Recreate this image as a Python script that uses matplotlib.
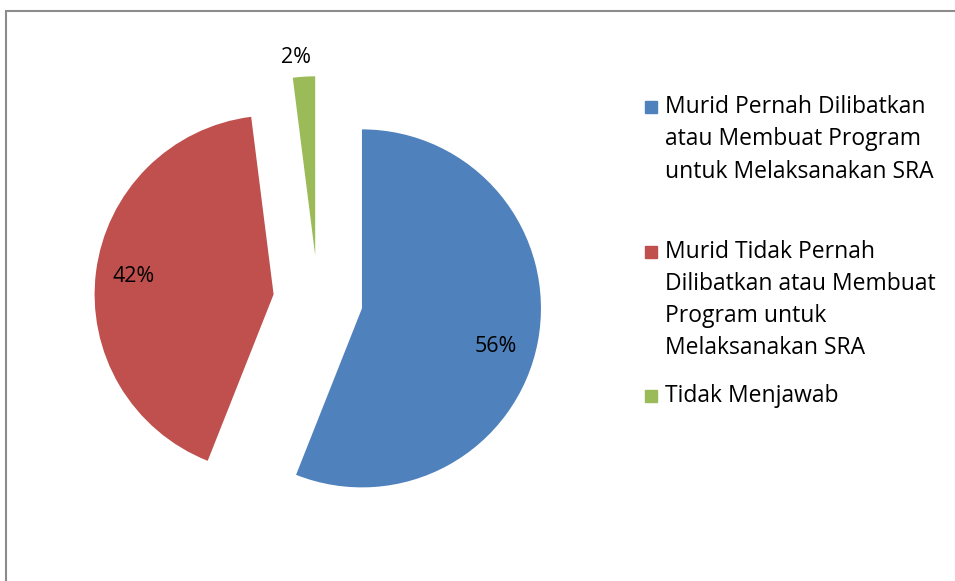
import numpy as np
import matplotlib
matplotlib.use('Agg')
import matplotlib.pyplot as plt
from matplotlib.patches import Rectangle

# data
labels = [
    'Murid Pernah Dilibatkan\natau Membuat Program\nuntuk Melaksanakan SRA',
    'Murid Tidak Pernah\nDilibatkan atau Membuat\nProgram untuk\nMelaksanakan SRA',
    'Tidak Menjawab',
]
values = [56, 42, 2]
colors = ['#4F81BD', '#C0504D', '#9BBB59']

FONT = 'Open Sans'
W, H = 955, 581
R = 179.0                 # pie radius in px
CX, CY = 318.0, 300.0     # pie centre in px (from top-left)

fig = plt.figure(figsize=(W / 100, H / 100), dpi=100)
ax = fig.add_axes([0, 0, 1, 1])

wedges, _ = ax.pie(values, colors=colors, startangle=90, counterclock=False,
                   explode=[0.25, 0.25, 0.25], radius=1,
                   wedgeprops=dict(linewidth=0))
ax.set_xlim(-CX / R, (W - CX) / R)
ax.set_ylim(-(H - CY) / R, CY / R)
ax.set_aspect('equal')
ax.axis('off')

# percentage labels
dists = [0.78, 0.79, 1.11]
shifts = [-5, 0, 2]
for w, v, d, s in zip(wedges, values, dists, shifts):
    th = np.deg2rad((w.theta1 + w.theta2) / 2 + s)
    x0, y0 = w.center
    ax.text(x0 + d * np.cos(th), y0 + d * np.sin(th), f'{v}%',
            ha='center', va='center', fontsize=15.5, family=FONT, color='black')

# legend drawn by hand
ys = [[107, 139, 172], [252, 284, 316, 348], [396]]
for lab, col, yl in zip(labels, colors, ys):
    fig.patches.append(Rectangle((645 / W, 1 - (yl[0] + 6) / H), 12 / W, 12 / H,
                                 transform=fig.transFigure, color=col))
    for line, y in zip(lab.split('\n'), yl):
        fig.text(665 / W, 1 - y / H, line, ha='left', va='center',
                 fontsize=16.5, family=FONT, color='black')

# chart frame
fig.patches.append(Rectangle((5.5 / W, -0.1), 1.2, 1.1 - 10.5 / H,
                             transform=fig.transFigure, fill=False,
                             edgecolor='#8c8c8c', linewidth=1.5))

fig.savefig('out.png', dpi=100)
